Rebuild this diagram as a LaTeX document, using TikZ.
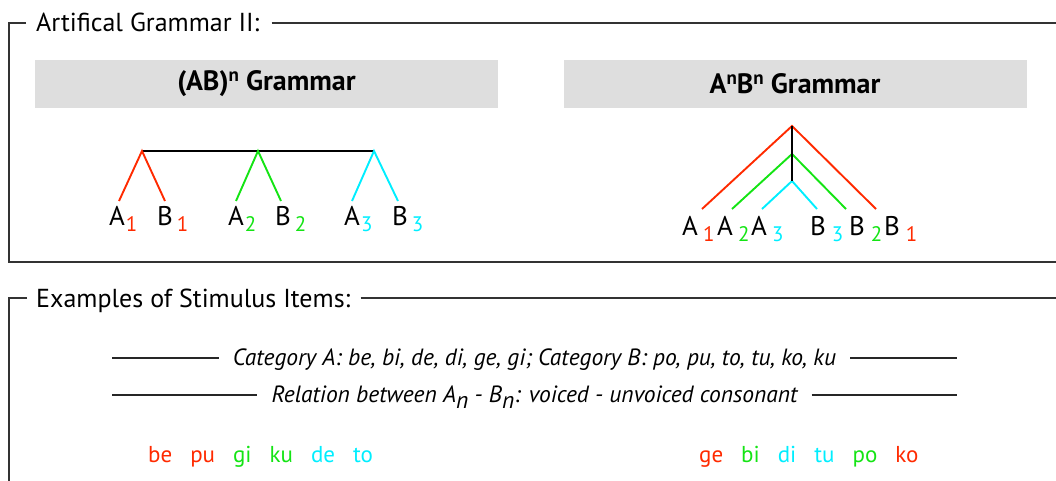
\documentclass[tikz,border=0pt]{standalone}
\usepackage{fontspec}
\setmainfont{PT Sans}
\usetikzlibrary{positioning,calc}
\definecolor{cred}{RGB}{255,42,0}
\definecolor{cgreen}{RGB}{20,228,20}
\definecolor{ccyan}{RGB}{0,238,255}
\definecolor{hdgray}{RGB}{222,222,222}
% letter with a coloured, lowered index
\newcommand{\sym}[4]{#1\hspace{#4}\raisebox{-6pt}{\fontsize{21}{24}\selectfont\textcolor{#3}{#2}}}
\newcommand{\upn}{\raisebox{9pt}{\fontsize{19}{19}\selectfont n}}
\newcommand{\gap}{\hspace{18pt}}

\begin{document}
\begin{tikzpicture}[
    x=1pt, y=-1pt,
    frame/.style={draw=black!80, line width=1.6pt},
    rule/.style={draw=black!85, line width=1.3pt},
    ttl/.style={anchor=base west, inner sep=0pt, text height=18pt, text depth=0pt, font=\fontsize{26}{30}\selectfont},
    heading/.style={fill=hdgray, minimum width=463pt, minimum height=48pt, inner sep=0pt, font=\fontsize{28}{32}\selectfont\bfseries},
    leaf/.style={anchor=base west, inner sep=0pt, font=\fontsize{27}{30}\selectfont},
    note/.style={inner sep=0pt, inner xsep=14pt, text height=15pt, text depth=0pt, font=\fontsize{23.5}{26}\selectfont\itshape},
    items/.style={anchor=base west, inner sep=0pt, font=\fontsize{23}{26}\selectfont},
    branch/.style={line width=1.9pt}
]
    \useasboundingbox (0,0) rectangle (1056,481);

    % ---- upper frame
    \node[ttl] (ttlA) at (36,32) {Artifical Grammar II:};
    \coordinate (ttlAtl) at (9,23);
    \coordinate (ttlAbl) at (9,262);
    \coordinate (ttlAbr) at (1056,262);
    \coordinate (ttlAtr) at (1056,23);
    \draw[frame] ([xshift=-10pt]ttlA.west) -- (ttlAtl) -- (ttlAbl) -- (ttlAbr);
    \draw[frame] ([xshift=12pt]ttlA.east) -- (ttlAtr);

    \node[heading] (hdAB) at (266.5,84) {(AB)\upn{} Grammar};
    \node[heading] (hdAnBn) at (795,84) {A\upn{}B\upn{} Grammar};

    % (AB)^n tree
    \coordinate (r1) at (142,151);
    \coordinate (r2) at (258,151);
    \coordinate (r3) at (374,151);
    \coordinate (a1) at (119,201);
    \coordinate (b1) at (165,201);
    \coordinate (a2) at (236,201);
    \coordinate (b2) at (281,201);
    \coordinate (a3) at (352,201);
    \coordinate (b3) at (398,201);
    \draw[branch] (r1) -- (r3);
    \draw[branch, cred] (a1) -- (r1) -- (b1);
    \draw[branch, cgreen] (a2) -- (r2) -- (b2);
    \draw[branch, ccyan] (a3) -- (r3) -- (b3);

    \node[leaf] (la1) at (109,225) {\sym{A}{1}{cred}{1pt}};
    \node[leaf] (lb1) at (157,225) {\sym{B}{1}{cred}{4pt}};
    \node[leaf] (la2) at (228,225) {\sym{A}{2}{cgreen}{1pt}};
    \node[leaf] (lb2) at (275,225) {\sym{B}{2}{cgreen}{4pt}};
    \node[leaf] (la3) at (344,225) {\sym{A}{3}{ccyan}{1pt}};
    \node[leaf] (lb3) at (392,225) {\sym{B}{3}{ccyan}{4pt}};

    % A^nB^n tree
    \coordinate (top) at (792,126);
    \coordinate (mid) at (792,154);
    \coordinate (low) at (792,181);
    \coordinate (na1) at (702,209);
    \coordinate (na2) at (732,209);
    \coordinate (na3) at (762,209);
    \coordinate (nb3) at (817,209);
    \coordinate (nb2) at (846,209);
    \coordinate (nb1) at (876,209);
    \draw[branch, cred] (na1) -- (top) -- (nb1);
    \draw[branch, cgreen] (na2) -- (mid) -- (nb2);
    \draw[branch, ccyan] (na3) -- (low) -- (nb3);
    \draw[branch] (top) -- (low);

    \node[leaf] (ma1) at (682,235) {\sym{A}{1}{cred}{5pt}};
    \node[leaf] (ma2) at (717,235) {\sym{A}{2}{cgreen}{5pt}};
    \node[leaf] (ma3) at (751,235) {\sym{A}{3}{ccyan}{5pt}};
    \node[leaf] (mb3) at (810,235) {\sym{B}{3}{ccyan}{6pt}};
    \node[leaf] (mb2) at (849,235) {\sym{B}{2}{cgreen}{6pt}};
    \node[leaf] (mb1) at (884,235) {\sym{B}{1}{cred}{6pt}};

    % ---- lower frame
    \node[ttl] (ttlB) at (36,307) {Examples of Stimulus Items:};
    \coordinate (ttlBtl) at (9,298);
    \coordinate (ttlBbl) at (9,481);
    \coordinate (ttlBtr) at (1056,298);
    \draw[frame] ([xshift=-9pt]ttlB.west) -- (ttlBtl) -- (ttlBbl);
    \draw[frame] ([xshift=10pt]ttlB.east) -- (ttlBtr);

    \node[note] (cat) at (534.5,358) {Category A: be, bi, de, di, ge, gi; Category B: po, pu, to, tu, ko, ku};
    \coordinate (catl) at (112,358);
    \coordinate (catr) at (957,358);
    \draw[rule] (catl) -- (cat.west);
    \draw[rule] (cat.east) -- (catr);

    \node[note] (rel) at (534.5,395) {Relation between A\raisebox{-6pt}{n} - B\raisebox{-6pt}{n}: voiced - unvoiced consonant};
    \coordinate (rell) at (112,395);
    \coordinate (relr) at (957,395);
    \draw[rule] (rell) -- (rel.west);
    \draw[rule] (rel.east) -- (relr);

    \node[items] (seqAB) at (148,462) {\textcolor{cred}{be\gap pu}\gap\textcolor{cgreen}{gi\gap ku}\gap\textcolor{ccyan}{de\gap to}};
    \node[items] (seqAnBn) at (699,462) {\textcolor{cred}{ge}\gap\textcolor{cgreen}{bi}\gap\textcolor{ccyan}{di\gap tu}\gap\textcolor{cgreen}{po}\gap\textcolor{cred}{ko}};
\end{tikzpicture}
\end{document}
